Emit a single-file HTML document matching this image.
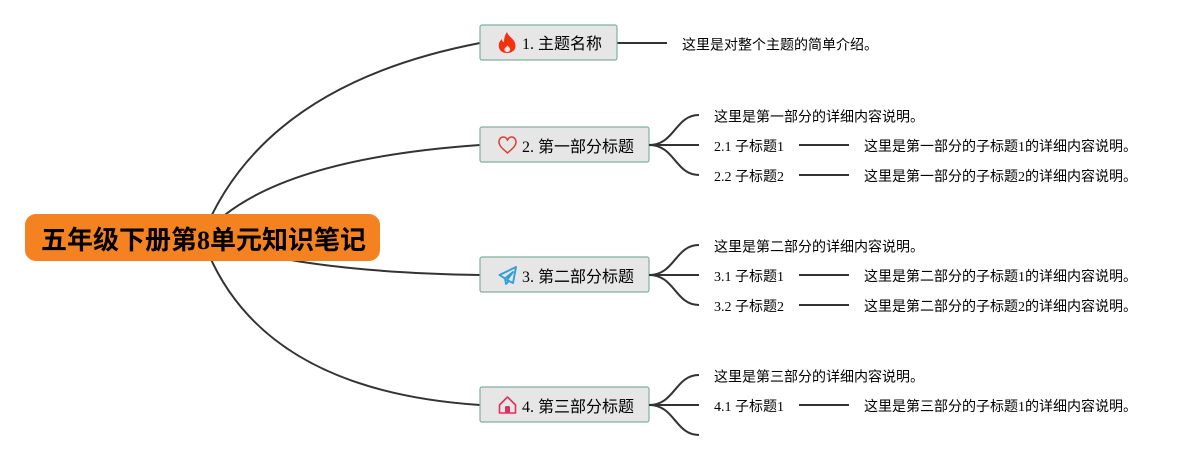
<!DOCTYPE html>
<html lang="zh"><head><meta charset="utf-8"><title>五年级下册第8单元知识笔记</title>
<style>
html,body{margin:0;padding:0;background:#fff;width:1197px;height:460px;overflow:hidden}
svg{display:block}
text{font-family:"Liberation Serif","WenQuanYi Zen Hei","Noto Sans CJK SC",serif;fill:#000;font-size:14px}
.t{font-size:16px}
.r{font-size:26px;font-weight:bold;fill:#000;font-family:"Liberation Serif","WenQuanYi Zen Hei","Noto Sans CJK SC",serif}
.l{fill:none;stroke:#333;stroke-width:2}
.b{fill:#e6e6e6;stroke:#7fb0a0;stroke-width:1.2}
</style></head><body>
<svg width="1197" height="460" viewBox="0 0 1197 460" xmlns="http://www.w3.org/2000/svg">
<path class="l" d="M202,237Q262,85 480,43"/>
<path class="l" d="M202,237Q265,160 480,145"/>
<path class="l" d="M202,237Q292,272 480,275"/>
<path class="l" d="M202,237Q255,390 480,405"/>
<rect x="25" y="214" width="355" height="47" rx="11" fill="#f58220"/>
<text class="r" x="41" y="249">五年级下册第8单元知识笔记</text>

<path class="l" d="M617,43H667"/>
<rect class="b" x="480" y="25" width="137" height="35" rx="2"/>
<path d="M507,32C508,36 513,38 515,43C517,49 513,53 507,53C501,53 498,49 499,44C499,42 501,40 502,39C502,41 503,42 504,42C504,38 505,35 507,32Z M507.500,52C509.500,52 510.500,50 510,48.500C509.500,47 508,46.500 507.500,45.500C506.500,47 505,47.500 504.500,49C504,50.500 505.500,52 507.500,52Z" fill="#f5310f" fill-rule="evenodd"/>
<text class="t" x="522" y="49">1. 主题名称</text>
<text x="682" y="49.500">这里是对整个主题的简单介绍。</text>

<rect class="b" x="480" y="127" width="169" height="35" rx="2"/>
<path d="M507.500,153C503,149 499,146 499,142C499,139 501,137 503.500,137C505,137 506.500,138 507.500,140C508.500,138 510,137 511.500,137C514,137 516,139 516,142C516,146 512,149 507.500,153Z" fill="none" stroke="#d9402f" stroke-width="1.500"/>
<text class="t" x="522" y="152">2. 第一部分标题</text>
<path class="l" d="M649,145C675,145 675,115 699,115M649,145H699M649,145C675,145 675,175 699,175"/>
<text x="714" y="121.500">这里是第一部分的详细内容说明。</text>
<text x="714" y="151">2.1 子标题1</text>
<path class="l" d="M799,145H849"/>
<text x="864" y="151">这里是第一部分的子标题1的详细内容说明。</text>
<text x="714" y="181">2.2 子标题2</text>
<path class="l" d="M799,175H849"/>
<text x="864" y="181">这里是第一部分的子标题2的详细内容说明。</text>

<rect class="b" x="480" y="257" width="169" height="35" rx="2"/>
<path d="M516,267L499.500,275L505,278.500L513,272L507,280L513,283ZM505,278.500L506,284L508.500,281.500" fill="none" stroke="#2e9fd8" stroke-width="1.900" stroke-linejoin="round"/>
<text class="t" x="522" y="282">3. 第二部分标题</text>
<path class="l" d="M649,275C675,275 675,245 699,245M649,275H699M649,275C675,275 675,305 699,305"/>
<text x="714" y="251.500">这里是第二部分的详细内容说明。</text>
<text x="714" y="281">3.1 子标题1</text>
<path class="l" d="M799,275H849"/>
<text x="864" y="281">这里是第二部分的子标题1的详细内容说明。</text>
<text x="714" y="311">3.2 子标题2</text>
<path class="l" d="M799,305H849"/>
<text x="864" y="311">这里是第二部分的子标题2的详细内容说明。</text>

<rect class="b" x="480" y="387" width="169" height="35" rx="2"/>
<path d="M499.500,405L507.500,397L515.500,405V413H499.500Z" fill="none" stroke="#df2f5e" stroke-width="1.600" stroke-linejoin="round"/>
<rect x="505" y="406" width="5" height="7" rx="1.500" fill="#df2f5e"/>
<text class="t" x="522" y="412">4. 第三部分标题</text>
<path class="l" d="M649,405C675,405 675,375 699,375M649,405H699M649,405C675,405 675,435 699,435"/>
<text x="714" y="381.500">这里是第三部分的详细内容说明。</text>
<text x="714" y="411">4.1 子标题1</text>
<path class="l" d="M799,405H849"/>
<text x="864" y="411">这里是第三部分的子标题1的详细内容说明。</text>
</svg>
</body></html>
